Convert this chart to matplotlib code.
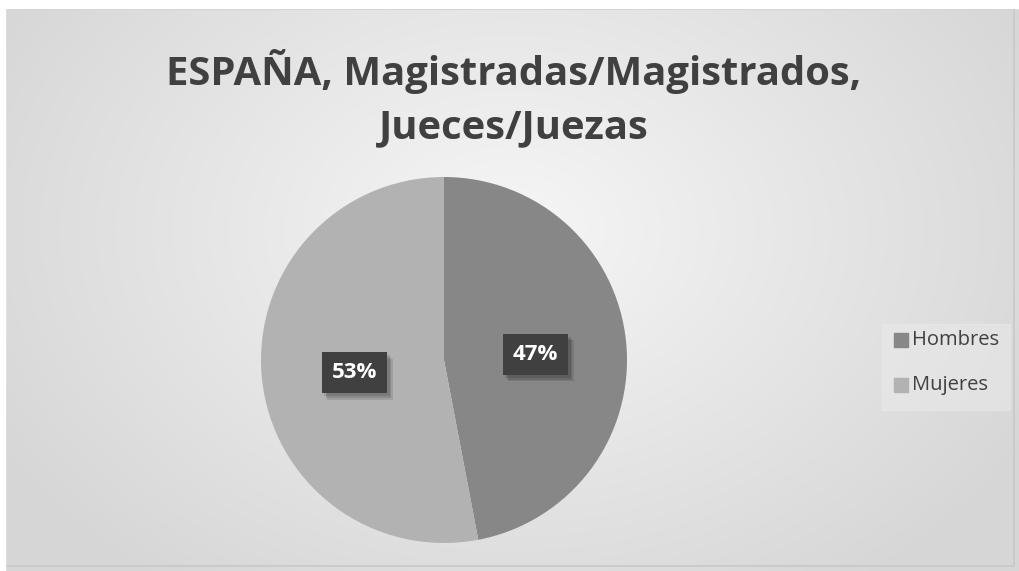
import matplotlib
matplotlib.use("Agg")
from matplotlib import pyplot as plt
from matplotlib.patches import Rectangle
import numpy as np

categorias = ["Hombres", "Mujeres"]
porcentajes = [47, 53]
colores = ["#878787", "#b2b2b2"]
titulo = "ESPAÑA, Magistradas/Magistrados,\nJueces/Juezas"

W, H = 1020, 571
fig = plt.figure(figsize=(W / 100, H / 100), dpi=100)

# fondo con degradado radial
fondo = fig.add_axes([0, 0, 1, 1])
fondo.set_axis_off()
yy, xx = np.mgrid[0:H, 0:W]
dist = np.sqrt(((xx - 510) / 620) ** 2 + ((yy - 230) / 460) ** 2)
valor = np.clip(0.965 - 0.13 * dist, 0.84, 0.97)
fondo.imshow(np.dstack([valor] * 3), extent=[0, W, H, 0], aspect="auto")
fondo.add_patch(Rectangle((5.5, 8.5), 1009, 557, fill=False, edgecolor="#c8c8c8", lw=1.2))
fondo.add_patch(Rectangle((0, 0), 5, H, color="white"))
fondo.add_patch(Rectangle((0, 0), W, 8, color="white"))
fondo.set_xlim(0, W)
fondo.set_ylim(H, 0)

fig.text(514 / W, 1 - 98 / H, titulo, ha="center", va="center", fontsize=28.8,
         fontweight="bold", color="#404040", family="Open Sans", linespacing=1.5)

# pastel
r = 183
cx, cy = 444, 360
ax = fig.add_axes([(cx - r) / W, 1 - (cy + r) / H, 2 * r / W, 2 * r / H])
cunas, _ = ax.pie(porcentajes, colors=colores, startangle=90, counterclock=False,
                  radius=1)
ax.set_xlim(-1, 1)
ax.set_ylim(-1, 1)
ax.set_aspect("auto")

posiciones = [(0.5, 0.03), (-0.49, -0.07)]
for pct, (px, py) in zip(porcentajes, posiciones):
    for dx, dy, a in [(0.03, -0.035, 0.10), (0.022, -0.025, 0.12), (0.014, -0.016, 0.12)]:
        ax.text(px + dx, py + dy, f"{pct}%", ha="center", va="center", fontsize=16,
                fontweight="bold", color="white", family="Open Sans", alpha=0,
                bbox=dict(boxstyle="square,pad=0.45", fc="#000000", ec="none", alpha=a))
    ax.text(px, py, f"{pct}%", ha="center", va="center", fontsize=16,
            fontweight="bold", color="white", family="Open Sans",
            bbox=dict(boxstyle="square,pad=0.45", fc="#404040", ec="none"))

# leyenda
fondo.add_patch(Rectangle((882, 324), 128, 86, color="#ebebeb", alpha=0.5))
for i, (nombre, color) in enumerate(zip(categorias, colores)):
    y = 340 + i * 45
    fondo.add_patch(Rectangle((894, y - 7), 14, 14, color=color))
    fondo.text(912, y, nombre, ha="left", va="center", fontsize=14.5,
               color="#404040", family="Open Sans")

fig.savefig("out.png", dpi=100)
